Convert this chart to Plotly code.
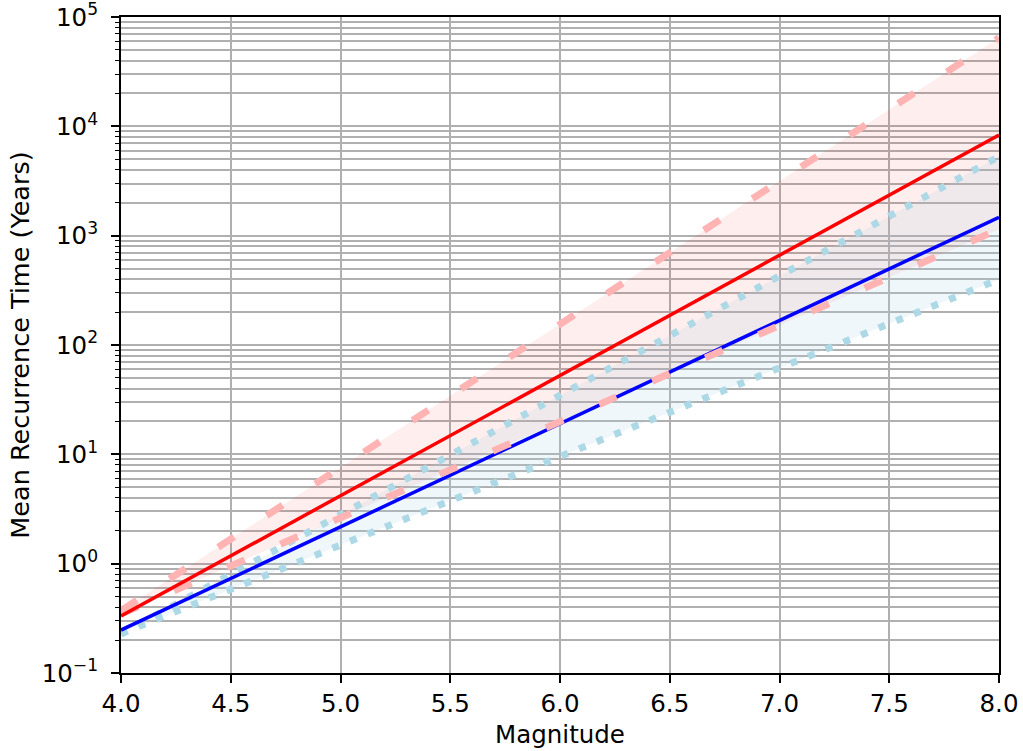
import plotly.graph_objects as go

magnitude = [4.0, 4.5, 5.0, 5.5, 6.0, 6.5, 7.0, 7.5, 8.0]
red_mean = [0.332, 1.18, 4.18, 14.8, 52.6, 187, 662, 2350, 8340]
red_upper = [0.372, 1.68, 7.59, 34.3, 155, 700, 3162, 14290, 64600]
red_lower = [0.346, 0.953, 2.62, 7.23, 19.9, 54.8, 151, 416, 1146]
blue_mean = [0.247, 0.733, 2.17, 6.44, 19.1, 56.6, 168, 497, 1473]
blue_upper = [0.227, 0.798, 2.81, 9.86, 34.7, 122, 429, 1507, 5300]
blue_lower = [0.229, 0.582, 1.48, 3.76, 9.55, 24.3, 61.7, 157, 398]

x_ticks = [4.0, 4.5, 5.0, 5.5, 6.0, 6.5, 7.0, 7.5, 8.0]
x_ticklabels = ["4.0", "4.5", "5.0", "5.5", "6.0", "6.5", "7.0", "7.5", "8.0"]
y_ticks = [0.1, 1, 10, 100, 1000, 10000, 100000]
y_ticklabels = ["10<sup>\u22121</sup>", "10<sup>0</sup>", "10<sup>1</sup>", "10<sup>2</sup>",
                "10<sup>3</sup>", "10<sup>4</sup>", "10<sup>5</sup>"]
y_minor = [k * 10.0 ** e for e in range(-1, 5) for k in range(2, 10)]

FONT = "DejaVu Sans"
FS = 24.5
GRID = "#b0b0b0"

fig = go.Figure()

# filled bands
fig.add_trace(go.Scatter(x=magnitude, y=red_lower, mode="lines", line=dict(width=0),
                         hoverinfo="skip", showlegend=False))
fig.add_trace(go.Scatter(x=magnitude, y=red_upper, mode="lines", line=dict(width=0),
                         fill="tonexty", fillcolor="rgba(255,0,0,0.065)",
                         hoverinfo="skip", showlegend=False))
fig.add_trace(go.Scatter(x=magnitude, y=blue_lower, mode="lines", line=dict(width=0),
                         hoverinfo="skip", showlegend=False))
fig.add_trace(go.Scatter(x=magnitude, y=blue_upper, mode="lines", line=dict(width=0),
                         fill="tonexty", fillcolor="rgba(173,216,230,0.2)",
                         hoverinfo="skip", showlegend=False))

# blue group
for ys in (blue_upper, blue_lower):
    fig.add_trace(go.Scatter(x=magnitude, y=ys, mode="lines",
                             line=dict(color="#add8e6", width=7, dash="7px,12px"),
                             showlegend=False))
fig.add_trace(go.Scatter(x=magnitude, y=blue_mean, mode="lines",
                         line=dict(color="#0000ff", width=3.5), showlegend=False))

# red group
for ys in (red_upper, red_lower):
    fig.add_trace(go.Scatter(x=magnitude, y=ys, mode="lines",
                             line=dict(color="#ffb3b3", width=7, dash="19px,39px"),
                             showlegend=False))
fig.add_trace(go.Scatter(x=magnitude, y=red_mean, mode="lines",
                         line=dict(color="#ff0000", width=3.5), showlegend=False))

fig.update_layout(
    width=1023, height=751,
    margin=dict(l=121, r=24, t=17, b=78),
    paper_bgcolor="white", plot_bgcolor="white",
    font=dict(family=FONT, size=FS, color="black"),
    showlegend=False,
)
fig.update_xaxes(
    range=[4.0, 8.0], tickvals=x_ticks, ticktext=x_ticklabels,
    showgrid=True, gridcolor=GRID, gridwidth=1.5,
    ticks="outside", ticklen=8, tickwidth=1.5, tickcolor="black",
    ticklabelstandoff=0, ticklabeloverflow="allow",
    showline=True, linecolor="black", linewidth=2, mirror=True,
    zeroline=False, automargin=False,
    title=dict(text="Magnitude", standoff=8, font=dict(family=FONT, size=FS)),
)
fig.update_yaxes(
    type="log", range=[-1.0002, 5.0002], tickvals=y_ticks, ticktext=y_ticklabels,
    showgrid=True, gridcolor=GRID, gridwidth=1.5,
    ticks="outside", ticklen=8, tickwidth=1.5, tickcolor="black",
    ticklabelstandoff=8, ticklabeloverflow="allow",
    minor=dict(tickvals=y_minor, ticks="outside", ticklen=4.5, tickwidth=1.2,
               tickcolor="black", showgrid=True, gridcolor=GRID, gridwidth=1.5),
    showline=True, linecolor="black", linewidth=2, mirror=True,
    zeroline=False, automargin=False,
    title=dict(text="Mean Recurrence Time (Years)", standoff=5,
               font=dict(family=FONT, size=25.5)),
)

fig.write_html("out.html")
